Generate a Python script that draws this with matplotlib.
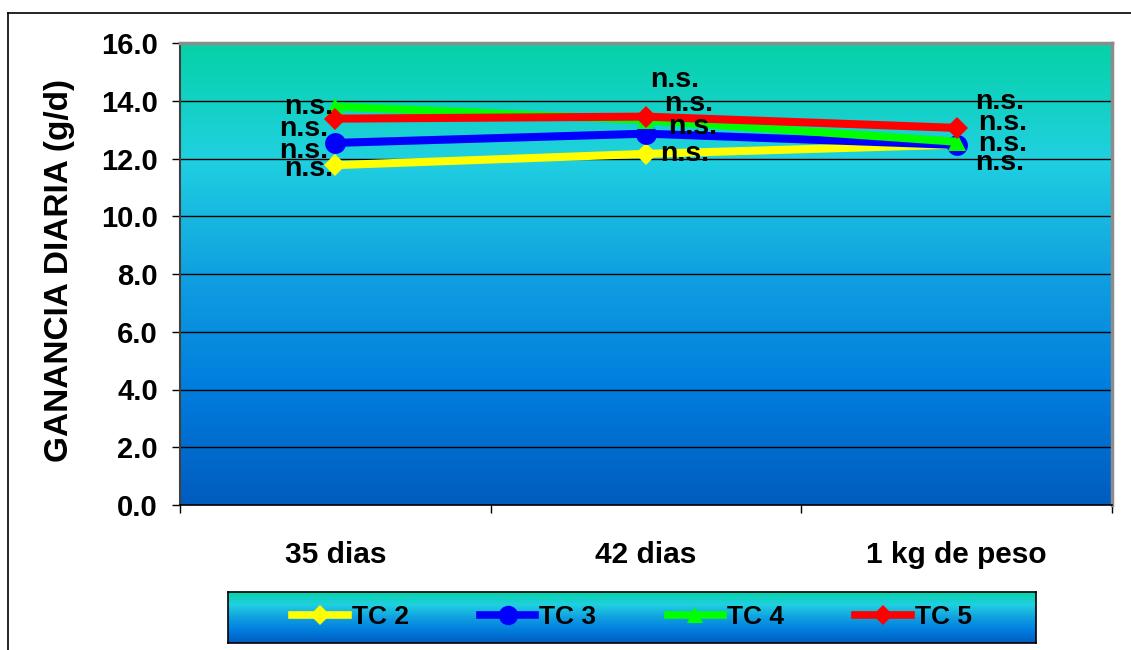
import numpy as np
import matplotlib
matplotlib.use("Agg")
import matplotlib.pyplot as plt
from matplotlib.lines import Line2D

# data
categories = ["35 dias", "42 dias", "1 kg de peso"]
series_names = ["TC 2", "TC 3", "TC 4", "TC 5"]
tc2 = [11.77, 12.16, 12.48]
tc3 = [12.54, 12.86, 12.47]
tc4 = [13.80, 13.33, 12.58]
tc5 = [13.38, 13.45, 13.06]
point_labels = ["n.s.", "n.s.", "n.s."]
y_ticks = [0, 2, 4, 6, 8, 10, 12, 14, 16]

# styles
colors = ["#FFFF00", "#0000FF", "#00FF00", "#FF0000"]
markers = ["D", "o", "^", "D"]
msizes = [11, 15, 13, 11]

# label offsets (pixels, y up) per series, per category
label_dx = [[-2, 14, 18], [-7, 22, 21], [-2, 4, 21], [-7, 18, 18]]
label_dy = [[-4, 0, -18], [-8, 7, 1], [0, 40, 19], [-10, 13, 26]]
label_ha = ["right", "left", "left"]

plt.rcParams['font.family'] = ['Liberation Sans', 'DejaVu Sans']
plt.rcParams['font.weight'] = 'bold'

W, H = 1131, 650
fig = plt.figure(figsize=(W / 100, H / 100), dpi=100)
fig.patch.set_facecolor("white")

# outer border (top and left visible)
fig.add_artist(Line2D([8 / W, 8 / W], [0, 1 - 13 / H], color="black", lw=1.2))
fig.add_artist(Line2D([8 / W, 1], [1 - 13 / H, 1 - 13 / H], color="black", lw=1.2))

# gradient used for plot area and legend box
stops = np.array([
    [0.00, 6, 210, 168],
    [0.25, 32, 208, 224],
    [0.50, 16, 160, 225],
    [0.75, 0, 125, 222],
    [1.00, 0, 92, 190],
])
t = np.linspace(0, 1, 256)
grad = np.stack([np.interp(t, stops[:, 0], stops[:, i]) for i in (1, 2, 3)], axis=1) / 255.0
grad_img = grad[:, None, :]

ax = fig.add_axes([180 / W, 1 - 505 / H, 932 / W, 462 / H])
ax.imshow(grad_img, extent=[-0.5, 2.5, 0, 16], aspect="auto", zorder=0, interpolation="bilinear")
ax.set_xlim(-0.5, 2.5)
ax.set_ylim(0, 16)

for yv in y_ticks[1:-1]:
    ax.axhline(yv, color="black", lw=1.0, zorder=1)

x = np.arange(len(categories))
all_series = [tc2, tc3, tc4, tc5]
for i, vals in enumerate(all_series):
    ax.plot(x, vals, color=colors[i], lw=5.8, marker=markers[i], ms=msizes[i],
            markeredgewidth=0, zorder=3 + i, solid_capstyle="butt")

# "n.s." annotations next to each point
for i, vals in enumerate(all_series):
    for j, v in enumerate(vals):
        ax.annotate(point_labels[j], (x[j], v),
                    xytext=(label_dx[i][j], label_dy[i][j]),
                    textcoords="offset pixels", ha=label_ha[j], va="center",
                    fontsize=20.5, fontweight="bold", color="black", zorder=10)

# axes styling
ax.set_yticks(y_ticks)
ax.set_yticklabels([f"{v:.1f}" for v in y_ticks])
ax.set_xticks([-0.5, 0.5, 1.5, 2.5])
ax.set_xticklabels([])
ax.set_xticks(x, minor=True)
ax.set_xticklabels(categories, minor=True)
ax.tick_params(axis="y", length=6, width=1, pad=10, labelsize=21)
ax.tick_params(axis="x", which="major", length=6, width=1)
ax.tick_params(axis="x", which="minor", length=0, pad=26, labelsize=21.5)
for lbl in ax.get_yticklabels() + ax.get_xticklabels(minor=True):
    lbl.set_fontweight("bold")

ax.spines["left"].set_color("#404040")
ax.spines["left"].set_linewidth(1.5)
ax.spines["bottom"].set_color("black")
ax.spines["bottom"].set_linewidth(1.2)
ax.spines["top"].set_color("#8c8c8c")
ax.spines["top"].set_linewidth(2.5)
ax.spines["right"].set_color("#8c8c8c")
ax.spines["right"].set_linewidth(2.5)

fig.text(60 / W, 1 - 271 / H, "GANANCIA DIARIA (g/d)", rotation=90, ha="center", va="center",
         fontsize=24, fontweight="bold")

# legend box with gradient
lax = fig.add_axes([228 / W, 1 - 643 / H, 808 / W, 51 / H])
lax.imshow(grad_img, extent=[0, 1, 0, 1], aspect="auto", interpolation="bilinear")
lax.set_xticks([])
lax.set_yticks([])
for s in lax.spines.values():
    s.set_color("black")
    s.set_linewidth(1.2)

handles = [Line2D([0], [0], color=colors[i], lw=5.5, marker=markers[i], ms=msizes[i] - 1,
                  markeredgewidth=0) for i in range(4)]
leg = lax.legend(handles, series_names, loc="center", ncol=4, frameon=False,
                 handlelength=2.1, handletextpad=0.15, columnspacing=2.7,
                 prop={"weight": "bold", "size": 19})

fig.savefig("out.png", dpi=100)
